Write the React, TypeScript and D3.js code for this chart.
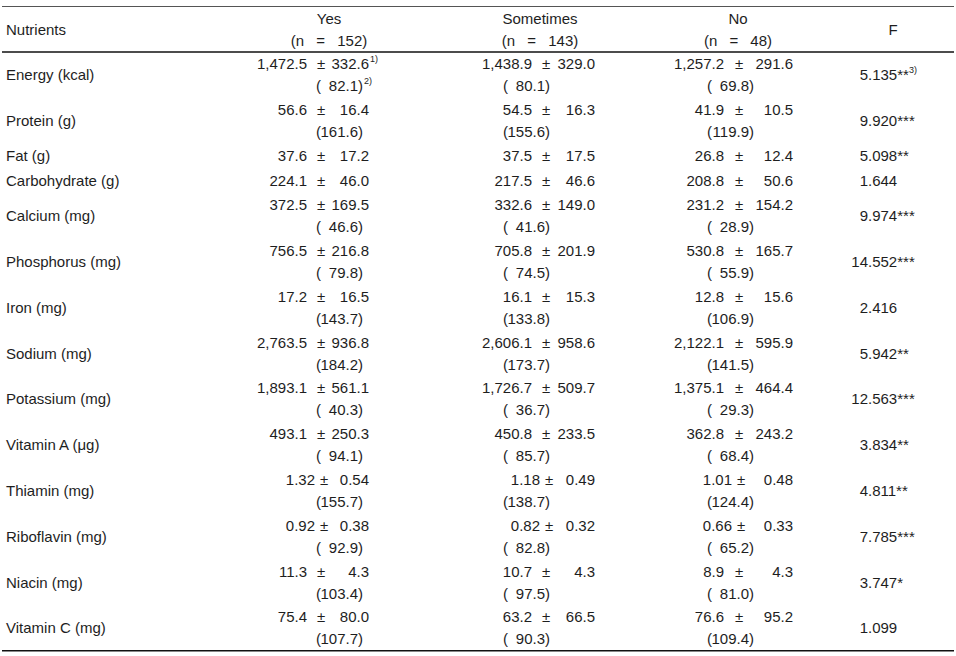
import React from "react";
import * as d3 from "d3";

const nutrients = [
  "Energy (kcal)", "Protein (g)", "Fat (g)", "Carbohydrate (g)", "Calcium (mg)",
  "Phosphorus (mg)", "Iron (mg)", "Sodium (mg)", "Potassium (mg)", "Vitamin A (μg)",
  "Thiamin (mg)", "Riboflavin (mg)", "Niacin (mg)", "Vitamin C (mg)",
];
const decimals = [1, 1, 1, 1, 1, 1, 1, 1, 1, 1, 2, 2, 1, 1];

const groups = ["Yes", "Sometimes", "No"];
const groupN = [152, 143, 48];

const yesMean = [1472.5, 56.6, 37.6, 224.1, 372.5, 756.5, 17.2, 2763.5, 1893.1, 493.1, 1.32, 0.92, 11.3, 75.4];
const yesSD = [332.6, 16.4, 17.2, 46.0, 169.5, 216.8, 16.5, 936.8, 561.1, 250.3, 0.54, 0.38, 4.3, 80.0];
const yesPct = [82.1, 161.6, null, null, 46.6, 79.8, 143.7, 184.2, 40.3, 94.1, 155.7, 92.9, 103.4, 107.7];

const someMean = [1438.9, 54.5, 37.5, 217.5, 332.6, 705.8, 16.1, 2606.1, 1726.7, 450.8, 1.18, 0.82, 10.7, 63.2];
const someSD = [329.0, 16.3, 17.5, 46.6, 149.0, 201.9, 15.3, 958.6, 509.7, 233.5, 0.49, 0.32, 4.3, 66.5];
const somePct = [80.1, 155.6, null, null, 41.6, 74.5, 133.8, 173.7, 36.7, 85.7, 138.7, 82.8, 97.5, 90.3];

const noMean = [1257.2, 41.9, 26.8, 208.8, 231.2, 530.8, 12.8, 2122.1, 1375.1, 362.8, 1.01, 0.66, 8.9, 76.6];
const noSD = [291.6, 10.5, 12.4, 50.6, 154.2, 165.7, 15.6, 595.9, 464.4, 243.2, 0.48, 0.33, 4.3, 95.2];
const noPct = [69.8, 119.9, null, null, 28.9, 55.9, 106.9, 141.5, 29.3, 68.4, 124.4, 65.2, 81.0, 109.4];

const fValues = [5.135, 9.920, 5.098, 1.644, 9.974, 14.552, 2.416, 5.942, 12.563, 3.834, 4.811, 7.785, 3.747, 1.099];
const fSig = ["**", "***", "**", "", "***", "***", "", "**", "***", "**", "**", "***", "*", ""];

const W = 956;
const H = 656;
const FONT = "'Liberation Sans', Arial, sans-serif";
const FS = 15;
const COLOR = "#1e1e1e";

// column anchors: right edge of mean, centre of ±, right edge of SD, left edge of "(…)"
const meanRight = [307, 532, 724];
const pmCentre = [321, 546, 739];
const sdRight = [369, 595, 793];
const parenLeft = [316, 503, 707];
const headerCentre = [329, 540, 738];

export default function App() {
  const means = [yesMean, someMean, noMean];
  const sds = [yesSD, someSD, noSD];
  const pcts = [yesPct, somePct, noPct];

  const rowH = nutrients.map((_, i) => (yesPct[i] == null ? 24.6 : 45.8));
  const headerBottom = 52;
  const tops: number[] = [];
  let acc = headerBottom;
  rowH.forEach((h) => { tops.push(acc); acc += h; });
  const bottom = acc;

  const fmt = (v: number, d: number) => d3.format(`,.${d}f`)(v);
  const fmtF = d3.format(".3f");

  const cells: React.ReactNode[] = [];
  nutrients.forEach((name, i) => {
    const top = tops[i];
    const h = rowH[i];
    const cy = top + h / 2;
    const twoLine = yesPct[i] != null;
    const y1 = twoLine ? cy - 11 : cy;
    const y2 = cy + 11;
    cells.push(
      <text key={`n${i}`} x={6} y={cy} dominantBaseline="central">{name}</text>
    );
    groups.forEach((g, gi) => {
      const dd = decimals[i];
      const mR = meanRight[gi] + (dd === 2 ? 8 : 0);
      const pm = dd === 2 ? mR + 9 : pmCentre[gi];
      cells.push(
        <text key={`m${i}-${gi}`} x={mR} y={y1} textAnchor="end" dominantBaseline="central">
          {fmt(means[gi][i], dd)}
        </text>
      );
      cells.push(
        <text key={`p${i}-${gi}`} x={pm} y={y1} textAnchor="middle" dominantBaseline="central">±</text>
      );
      cells.push(
        <text key={`s${i}-${gi}`} x={sdRight[gi]} y={y1} textAnchor="end" dominantBaseline="central">
          {fmt(sds[gi][i], dd)}
        </text>
      );
      if (i === 0 && gi === 0) {
        cells.push(
          <text key="sup1" x={sdRight[gi] + 1} y={y1 - 5} fontSize={9} dominantBaseline="central">1)</text>
        );
      }
      const pv = pcts[gi][i];
      if (pv != null) {
        const pl = parenLeft[gi];
        const pr = pl + 47;
        cells.push(
          <text key={`l${i}-${gi}`} x={pl} y={y2} textAnchor="start" dominantBaseline="central">(</text>
        );
        cells.push(
          <text key={`r${i}-${gi}`} x={pr} y={y2} textAnchor="end" dominantBaseline="central">
            {fmt(pv, 1)})
          </text>
        );
        if (i === 0 && gi === 0) {
          cells.push(
            <text key="sup2" x={pr + 1} y={y2 - 5} fontSize={9} dominantBaseline="central">2)</text>
          );
        }
      }
    });
    const fs = fmtF(fValues[i]);
    const [ip, fp] = fs.split(".");
    const decX = 868;
    cells.push(
      <text key={`fi${i}`} x={decX} y={cy} textAnchor="end" dominantBaseline="central">{ip}</text>
    );
    cells.push(
      <text key={`ff${i}`} x={decX} y={cy} textAnchor="start" dominantBaseline="central">
        .{fp}{fSig[i]}
        {i === 0 ? <tspan fontSize={9} dy={-5}>3)</tspan> : null}
      </text>
    );
  });

  return (
    <svg
      width={W}
      height={H}
      style={{ position: "absolute", left: 0, top: 0, background: "#fff" }}
      fontFamily={FONT}
      fontSize={FS}
      fill={COLOR}
    >
      <line x1={2} x2={954} y1={6.5} y2={6.5} stroke="#555" strokeWidth={1.2} />
      <line x1={2} x2={954} y1={headerBottom} y2={headerBottom} stroke="#111" strokeWidth={1.6} />
      <line x1={2} x2={954} y1={bottom} y2={bottom} stroke="#111" strokeWidth={1.6} />
      <text x={6} y={29} dominantBaseline="central">Nutrients</text>
      {groups.map((g, gi) => (
        <g key={g}>
          <text x={headerCentre[gi]} y={18} textAnchor="middle" dominantBaseline="central">{g}</text>
          <text x={headerCentre[gi]} y={40} textAnchor="middle" dominantBaseline="central" wordSpacing={8}>
            {`(n = ${groupN[gi]})`}
          </text>
        </g>
      ))}
      <text x={893} y={29} textAnchor="middle" dominantBaseline="central">F</text>
      {cells}
    </svg>
  );
}
